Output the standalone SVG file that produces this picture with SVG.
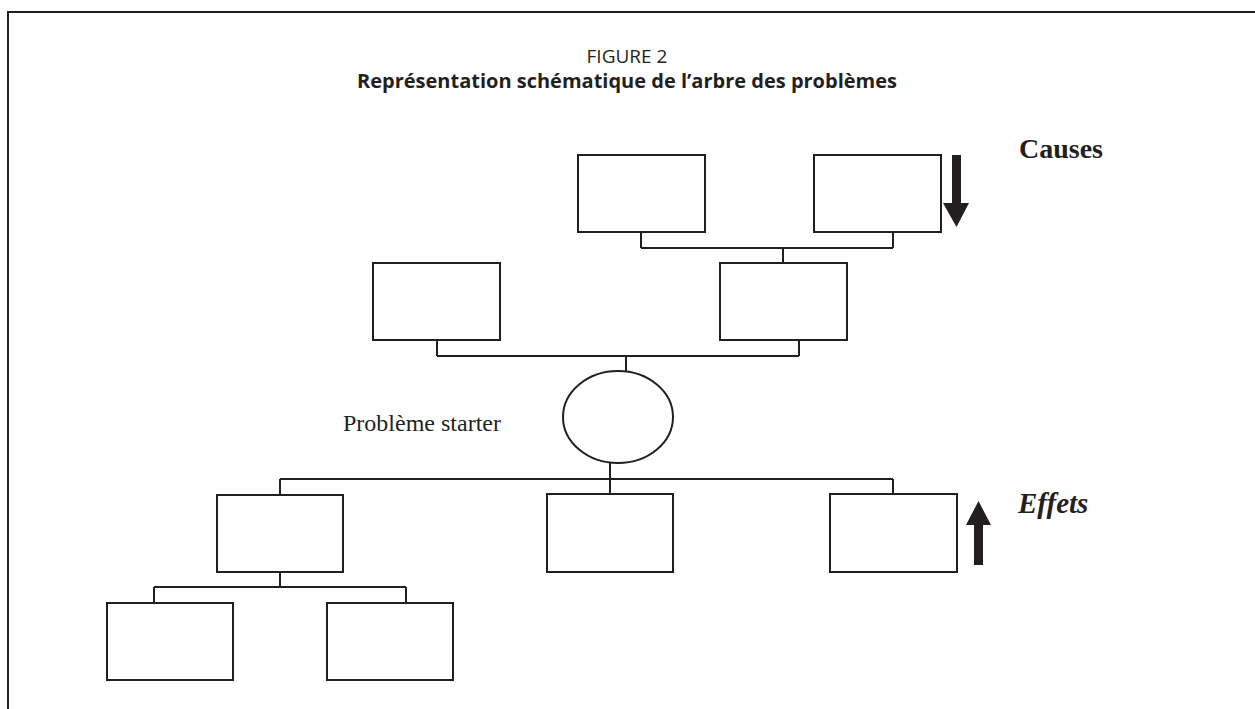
<svg xmlns="http://www.w3.org/2000/svg" width="1255" height="709" viewBox="0 0 1255 709">
<style>
.box{fill:#fff;stroke:#231f20;stroke-width:2}
.con{fill:none;stroke:#231f20;stroke-width:2}
.title{font-family:"Open Sans","Noto Sans",sans-serif;fill:#231f20;text-anchor:middle}
.serif{font-family:"Liberation Serif","Times New Roman",serif;fill:#231f20}
.arrow{fill:#231f20}
</style>
<rect x="0" y="0" width="1255" height="709" fill="#fff"/>
<path d="M8,709 V12 H1255" fill="none" stroke="#231f20" stroke-width="2"/>
<text class="title" x="627" y="63" font-size="19">FIGURE 2</text>
<text class="title" x="627" y="88" font-size="20" font-weight="bold">Représentation schématique de l’arbre des problèmes</text>
<g id="connectors">
<path class="con" d="M641,232 V248 M893,232 V248 M641,248 H893 M783,248 V263"/>
<path class="con" d="M437,340 V356 M799,340 V356 M437,356 H799 M626,356 V371"/>
<path class="con" d="M610,463 V479 M280,479 H893 M280,479 V495 M610,479 V494 M893,479 V494"/>
<path class="con" d="M280,572 V587 M154,587 H406 M154,587 V603 M406,587 V603"/>
</g>
<g id="cause1"><rect class="box" x="578" y="155" width="127" height="77"/></g>
<g id="cause2"><rect class="box" x="814" y="155" width="127" height="77"/></g>
<g id="cause3"><rect class="box" x="373" y="263" width="127" height="77"/></g>
<g id="cause4"><rect class="box" x="720" y="263" width="127" height="77"/></g>
<g id="probleme"><ellipse class="box" cx="618" cy="417" rx="55" ry="46"/>
<text class="serif" x="343" y="431" font-size="24">Problème starter</text></g>
<g id="effet1"><rect class="box" x="217" y="495" width="126" height="77"/></g>
<g id="effet2"><rect class="box" x="547" y="494" width="126" height="78"/></g>
<g id="effet3"><rect class="box" x="830" y="494" width="127" height="78"/></g>
<g id="effet4"><rect class="box" x="107" y="603" width="126" height="77"/></g>
<g id="effet5"><rect class="box" x="327" y="603" width="126" height="77"/></g>
<g id="causes-label">
<path class="arrow" d="M952,155 H961 V203 H969 L956.5,227 L943,203 H952 Z"/>
<text class="serif" x="1019" y="158" font-size="28" font-weight="bold">Causes</text>
</g>
<g id="effets-label">
<path class="arrow" d="M974,565 H983 V525 H991 L978.5,501 L966,525 H974 Z"/>
<text class="serif" x="1018" y="513" font-size="29" font-weight="bold" font-style="italic">Effets</text>
</g>
</svg>
